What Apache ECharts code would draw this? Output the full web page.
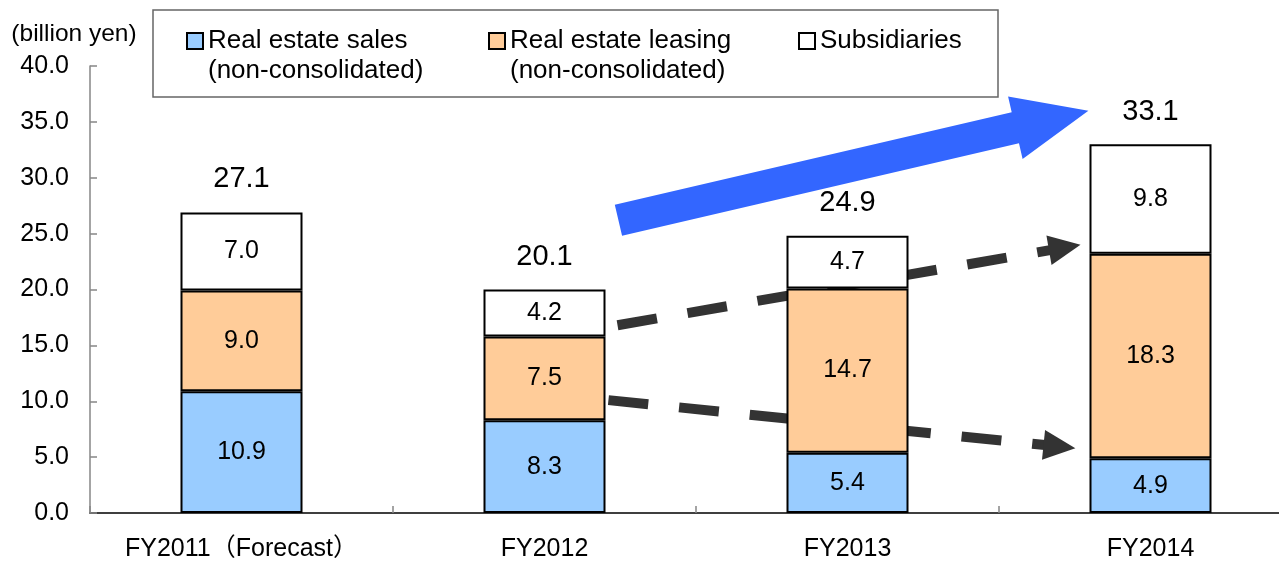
<!DOCTYPE html>
<html><head><meta charset="utf-8">
<script src="https://cdn.jsdelivr.net/npm/echarts@6/dist/echarts.min.js"></script>
<style>html,body{margin:0;padding:0;background:#fff}#c{width:1279px;height:563px}</style>
</head><body><div id="c"></div>
<script>
// ---- data ----
const categories = ['FY2011（Forecast）', 'FY2012', 'FY2013', 'FY2014'];
const salesValues = [10.9, 8.3, 5.4, 4.9];
const leasingValues = [9.0, 7.5, 14.7, 18.3];
const subsidiaryValues = [7.0, 4.2, 4.7, 9.8];
const totalValues = [27.1, 20.1, 24.9, 33.1];
const seriesNames = ['Real estate sales\n(non-consolidated)', 'Real estate leasing\n(non-consolidated)', 'Subsidiaries'];
const yAxisName = '(billion yen)';
const yMin = 0, yMax = 40, yInterval = 5;

// annotation anchors: [category index, offset in category widths, value]
const arrowAnchors = {
  growth: { from: [1, 0.244, 26.2], to: [3, -0.205, 36.0] },
  leasingTrend: { from: [1, 0.241, 16.8], to: [3, -0.231, 24.0] },
  salesTrend: { from: [1, 0.211, 10.1], to: [3, -0.248, 5.8] }
};

const FONT = 'Liberation Sans, Arial, "Noto Sans CJK JP", sans-serif';
const chart = echarts.init(document.getElementById('c'), null, { renderer: 'canvas' });

const segStyle = (color) => ({ color: color, borderColor: '#000', borderWidth: 2 });
const segLabel = { show: true, position: 'inside', color: '#000', fontSize: 25, fontFamily: FONT,
  formatter: p => Number(p.value).toFixed(1) };
const BW = 122;

// legend icon: square at the top of a taller box so it lines up with the first text line
const topSquareIcon = 'path://M0,0H16V16H0Z M0,46';
const legendText = { fontSize: 26, lineHeight: 30, color: '#000', fontFamily: FONT };
const legendBase = {
  orient: 'horizontal', padding: 0, itemGap: 0, itemWidth: 16, selectedMode: false, top: 26,
  itemStyle: { borderColor: '#000', borderWidth: 2 }, textStyle: legendText
};

chart.setOption({
  animation: false,
  backgroundColor: '#fff',
  textStyle: { fontFamily: FONT },
  grid: { left: 90, top: 66, width: 1212, bottom: 50, containLabel: false, outerBoundsMode: 'none' },
  legend: [
    Object.assign({}, legendBase, { data: [seriesNames[0]], left: 186, itemHeight: 46, icon: topSquareIcon }),
    Object.assign({}, legendBase, { data: [seriesNames[1]], left: 488, itemHeight: 46, icon: topSquareIcon }),
    Object.assign({}, legendBase, { data: [seriesNames[2]], left: 798, itemHeight: 16, icon: 'rect' })
  ],
  xAxis: {
    type: 'category', data: categories, boundaryGap: true,
    axisLine: { show: true, lineStyle: { color: '#000', width: 1.5 } },
    axisTick: { show: true, inside: true, interval: 0, length: 7, lineStyle: { color: '#868686', width: 1.5 } },
    axisLabel: { color: '#000', fontSize: 25, margin: 24, interval: 0, hideOverlap: false, fontFamily: FONT }
  },
  yAxis: {
    type: 'value', min: yMin, max: yMax, interval: yInterval,
    name: yAxisName, nameLocation: 'end', nameGap: 20,
    nameTextStyle: { color: '#000', fontSize: 24.5, fontFamily: FONT, align: 'center', padding: [0, 32, 0, 0] },
    axisLine: { show: true, lineStyle: { color: '#868686', width: 1.5 } },
    axisTick: { show: true, inside: true, length: 7, lineStyle: { color: '#868686', width: 1.5 } },
    axisLabel: { color: '#000', fontSize: 25, margin: 21, fontFamily: FONT, formatter: v => v.toFixed(1) },
    splitLine: { show: false }
  },
  series: [
    { name: seriesNames[0], type: 'bar', stack: 'total', barWidth: BW, data: salesValues,
      itemStyle: segStyle('#99CCFF'), label: segLabel },
    { name: seriesNames[1], type: 'bar', stack: 'total', barWidth: BW, data: leasingValues,
      itemStyle: segStyle('#FFCC99'), label: segLabel },
    { name: seriesNames[2], type: 'bar', stack: 'total', barWidth: BW, data: subsidiaryValues,
      itemStyle: segStyle('#FFFFFF'), label: segLabel },
    { name: 'Total', type: 'bar', barWidth: BW, barGap: '-100%', data: totalValues, silent: true,
      itemStyle: { color: 'rgba(0,0,0,0)', borderWidth: 0 },
      label: { show: true, position: 'top', distance: 17, color: '#000', fontSize: 29, fontFamily: FONT,
        formatter: p => p.value.toFixed(1) } }
  ]
});

// ---- annotations computed from the chart's own scales ----
const p0 = chart.convertToPixel({ xAxisIndex: 0, yAxisIndex: 0 }, [0, 0]);
const p1 = chart.convertToPixel({ xAxisIndex: 0, yAxisIndex: 0 }, [1, 0]);
const band = p1[0] - p0[0];
function px(a) {
  const p = chart.convertToPixel({ xAxisIndex: 0, yAxisIndex: 0 }, [a[0], a[2]]);
  return [p[0] + a[1] * band, p[1]];
}
function geom(an) {
  const s = px(an.from), t = px(an.to);
  const dx = t[0] - s[0], dy = t[1] - s[1], L = Math.hypot(dx, dy);
  const u = [dx / L, dy / L], n = [-u[1], u[0]];
  return { s, t, u, n };
}
const graphics = [];
// blue growth arrow
{
  const g = geom(arrowAnchors.growth);
  const headLen = 75, sw = 16, hw = 32;
  const H = [g.t[0] - g.u[0] * headLen, g.t[1] - g.u[1] * headLen];
  const pt = (b, k) => [b[0] + g.n[0] * k, b[1] + g.n[1] * k];
  graphics.push({ type: 'polygon', z: 1, shape: { points: [pt(g.s, sw), pt(H, sw), pt(H, hw), g.t, pt(H, -hw), pt(H, -sw), pt(g.s, -sw)] },
    style: { fill: '#3366FF' } });
}
// dashed trend arrows
['leasingTrend', 'salesTrend'].forEach(k => {
  const g = geom(arrowAnchors[k]);
  const headLen = 32, hw = 15;
  const H = [g.t[0] - g.u[0] * headLen, g.t[1] - g.u[1] * headLen];
  graphics.push({ type: 'line', z: 1, shape: { x1: g.s[0], y1: g.s[1], x2: H[0] + g.u[0] * 4, y2: H[1] + g.u[1] * 4 },
    style: { stroke: '#333333', lineWidth: 10, lineDash: [40, 31], lineCap: 'butt' } });
  graphics.push({ type: 'polygon', z: 1, shape: { points: [[H[0] + g.n[0] * hw, H[1] + g.n[1] * hw], g.t, [H[0] - g.n[0] * hw, H[1] - g.n[1] * hw]] },
    style: { fill: '#333333' } });
});
// legend frame
graphics.push({ type: 'rect', z: 1, shape: { x: 153, y: 10, width: 845, height: 87 },
  style: { fill: 'none', stroke: '#666666', lineWidth: 1.5 } });
chart.setOption({ graphic: graphics });
</script></body></html>
